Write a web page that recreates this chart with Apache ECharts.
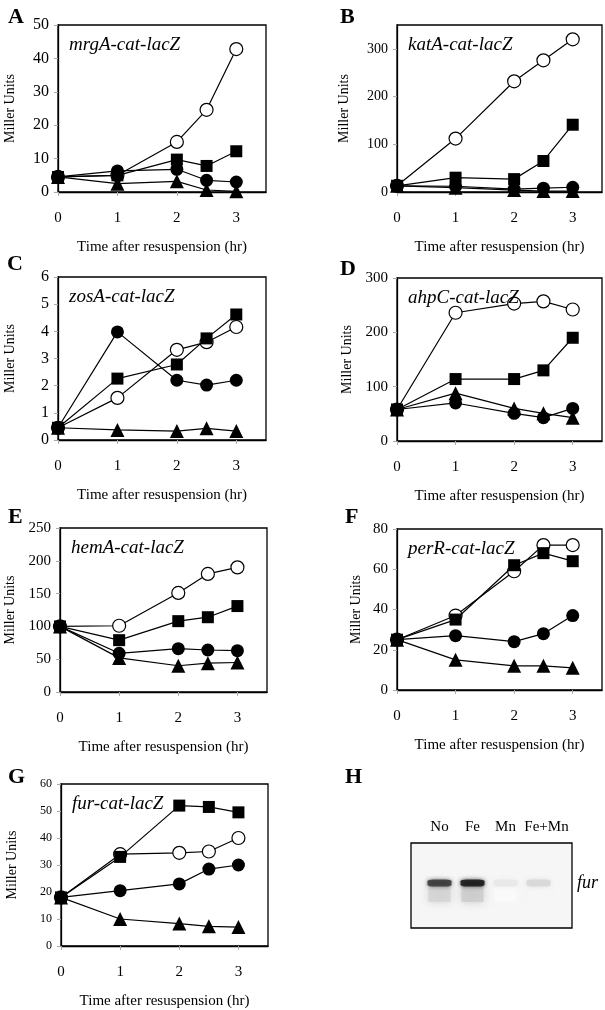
<!DOCTYPE html>
<html>
<head>
<meta charset="utf-8">
<script src="https://cdn.jsdelivr.net/npm/echarts@6/dist/echarts.min.js"></script>
<style>html,body{margin:0;padding:0;background:#fff}#c{width:605px;height:1010px}</style>
</head>
<body>
<div id="c"></div>
<script>
// ---- data ----
var times = [0, 1, 2, 2.5, 3];
var panelLetters = ['A', 'B', 'C', 'D', 'E', 'F', 'G', 'H'];
var reporters = ['mrgA-cat-lacZ', 'katA-cat-lacZ', 'zosA-cat-lacZ', 'ahpC-cat-lacZ', 'hemA-cat-lacZ', 'perR-cat-lacZ', 'fur-cat-lacZ'];
var yMax = [50, 350, 6, 300, 250, 80, 60];
var yInterval = [10, 100, 1, 100, 50, 20, 10];

var mrgA_open = [4.5, 5.0, 15.0, 24.6, 42.8];
var mrgA_fill = [4.5, 6.3, 6.8, 3.5, 3.0];
var mrgA_tri  = [4.5, 2.5, 3.2, 0.6, 0.2];
var mrgA_sq   = [4.5, 5.0, 9.7, 7.8, 12.2];

var katA_open = [13, 112, 232, 276, 320];
var katA_fill = [13, 12, 6, 8, 10];
var katA_tri  = [13, 9, 4, 2, 2];
var katA_sq   = [13, 30, 27, 65, 141];

var zosA_open = [0.45, 1.55, 3.32, 3.6, 4.16];
var zosA_fill = [0.45, 3.98, 2.2, 2.02, 2.2];
var zosA_tri  = [0.45, 0.37, 0.33, 0.43, 0.33];
var zosA_sq   = [0.45, 2.26, 2.78, 3.74, 4.62];

var ahpC_open = [58, 236, 253, 257, 242];
var ahpC_fill = [58, 70, 51, 43, 60];
var ahpC_tri  = [58, 88, 60, 51, 43];
var ahpC_sq   = [58, 114, 114, 130, 190];

var hemA_open = [100, 101, 151, 180, 190];
var hemA_fill = [100, 59, 66, 64, 63];
var hemA_tri  = [100, 52, 40, 44, 45];
var hemA_sq   = [100, 79, 108, 114, 131];

var perR_open = [25, 37, 59, 72, 72];
var perR_fill = [25, 27, 24, 28, 37];
var perR_tri  = [25, 15, 12, 12, 11];
var perR_sq   = [25, 35, 62, 68, 64];

var fur_open = [18, 34, 34.5, 35, 40];
var fur_fill = [18, 20.5, 23, 28.5, 30];
var fur_tri  = [18, 10, 8.3, 7.3, 7];
var fur_sq   = [18, 33, 52, 51.5, 49.5];

var blotLanes = ['No', 'Fe', 'Mn', 'Fe+Mn'];
var blotBand = ['fur'];
var bandIntensity = [0.86, 1.0, 0.1, 0.17];

var panelSeries = [
  [mrgA_open, mrgA_fill, mrgA_tri, mrgA_sq],
  [katA_open, katA_fill, katA_tri, katA_sq],
  [zosA_open, zosA_fill, zosA_tri, zosA_sq],
  [ahpC_open, ahpC_fill, ahpC_tri, ahpC_sq],
  [hemA_open, hemA_fill, hemA_tri, hemA_sq],
  [perR_open, perR_fill, perR_tri, perR_sq],
  [fur_open, fur_fill, fur_tri, fur_sq]
];
var seriesNames = ['open circle', 'filled circle', 'triangle', 'square'];

// ---- layout / style ----
var FONT = 'Liberation Serif';
var grids = [
  {left: 58, top: 25, width: 208, height: 167},
  {left: 397, top: 25, width: 205, height: 167},
  {left: 58, top: 277, width: 208, height: 163},
  {left: 397, top: 278, width: 205, height: 163},
  {left: 60, top: 528, width: 207, height: 164},
  {left: 397, top: 529, width: 205, height: 161},
  {left: 61, top: 784, width: 207, height: 164}
];
var yFont = [16, 14, 16, 15, 15, 15, 12];
var yNameGap = [41, 46, 41, 43, 43, 34, 42];
var letterPos = [[3, 1], [335, 1], [2, 248], [335, 253], [3, 501], [340, 501], [3, 761], [340, 761]];
var symbolDefs = [
  {symbol: 'circle', size: 13, color: '#fff'},
  {symbol: 'circle', size: 13, color: '#000'},
  {symbol: 'triangle', size: 14, color: '#000'},
  {symbol: 'rect', size: 12, color: '#000'}
];

var option = {
  animation: false,
  backgroundColor: '#fff',
  grid: [], xAxis: [], yAxis: [], series: [], title: [], graphic: []
};

grids.forEach(function (g, i) {
  option.grid.push({left: g.left, top: g.top, width: g.width, height: g.height,
    show: true, borderColor: '#000', borderWidth: 1.3, backgroundColor: 'transparent'});
  option.xAxis.push({
    type: 'value', gridIndex: i, min: 0, max: 3.5, interval: 1,
    axisLine: {show: true, lineStyle: {color: '#000', width: 1.3}},
    axisTick: {show: true, length: 4, lineStyle: {color: '#aaa'}},
    splitLine: {show: false},
    axisLabel: {showMaxLabel: false, margin: 19, color: '#000', fontFamily: FONT, fontSize: 15},
    name: 'Time after resuspension (hr)', nameLocation: 'middle', nameGap: 48,
    nameTextStyle: {color: '#000', fontFamily: FONT, fontSize: 15}
  });
  option.yAxis.push({
    type: 'value', gridIndex: i, min: 0, max: yMax[i], interval: yInterval[i],
    axisLine: {show: true, lineStyle: {color: '#000', width: 1.3}},
    axisTick: {show: true, length: 4, lineStyle: {color: '#aaa'}},
    splitLine: {show: false},
    axisLabel: {showMaxLabel: i === 1 ? false : true, margin: 9, color: '#000', fontFamily: FONT, fontSize: yFont[i]},
    name: 'Miller Units', nameLocation: 'middle', nameGap: yNameGap[i],
    nameTextStyle: {color: '#000', fontFamily: FONT, fontSize: 14}
  });
  option.title.push({
    text: reporters[i], left: g.left + 6, top: g.top + 5,
    textStyle: {fontFamily: FONT, fontStyle: 'italic', fontWeight: 'normal', fontSize: 19, color: '#000'}
  });
  panelSeries[i].forEach(function (vals, k) {
    var sd = symbolDefs[k];
    option.series.push({
      name: seriesNames[k], type: 'line', xAxisIndex: i, yAxisIndex: i,
      data: times.map(function (t, j) { return [t, vals[j]]; }),
      symbol: sd.symbol, symbolSize: sd.size, showAllSymbol: true,
      lineStyle: {color: '#000', width: 1.2},
      itemStyle: {color: sd.color, borderColor: '#000', borderWidth: k === 0 ? 1.2 : 0, opacity: 1},
      z: 2 + k
    });
  });
});

panelLetters.forEach(function (L, i) {
  option.title.push({
    text: L, left: letterPos[i][0], top: letterPos[i][1],
    textStyle: {fontFamily: FONT, fontWeight: 'bold', fontSize: 22, color: '#000'}
  });
});

// ---- panel H: blot ----
var hIdx = grids.length;
option.graphic.push({
  type: 'rect', shape: {x: 411, y: 843, width: 161, height: 85},
  style: {fill: '#f6f6f6', stroke: '#000', lineWidth: 1.3}, z: 0
});
option.grid.push({left: 423, top: 843, width: 132, height: 80, show: false});
option.xAxis.push({
  type: 'category', gridIndex: hIdx, data: blotLanes, position: 'top', boundaryGap: true,
  axisLine: {show: false}, axisTick: {show: false}, splitLine: {show: false},
  axisLabel: {
    margin: 8, color: '#000', fontFamily: FONT, fontSize: 15, interval: 0,
    formatter: function (v) { return v === 'Fe+Mn' ? '{s|' + v + '}' : '{n|' + v + '}'; },
    rich: {
      n: {fontFamily: FONT, fontSize: 15, color: '#000'},
      s: {fontFamily: FONT, fontSize: 15, color: '#000', padding: [0, 0, 0, 16]}
    }
  }
});
option.yAxis.push({
  type: 'category', gridIndex: hIdx, data: blotBand, position: 'right',
  axisLine: {show: false}, axisTick: {show: false}, splitLine: {show: false},
  axisLabel: {margin: 22, color: '#000', fontFamily: FONT, fontSize: 18, fontStyle: 'italic'}
});
function gray(v) { var c = Math.round(255 * (1 - v)); return 'rgb(' + c + ',' + c + ',' + c + ')'; }
option.series.push({
  name: 'smear', type: 'scatter', xAxisIndex: hIdx, yAxisIndex: hIdx,
  symbol: 'rect', symbolSize: [22, 16], symbolOffset: [0, 11],
  data: blotLanes.map(function (l, j) {
    return {value: [l, blotBand[0]], itemStyle: {color: gray(bandIntensity[j] * 0.2), shadowBlur: 8, shadowColor: gray(bandIntensity[j] * 0.25)}};
  }), z: 1
});
option.series.push({
  name: 'band', type: 'scatter', xAxisIndex: hIdx, yAxisIndex: hIdx,
  symbol: 'roundRect', symbolSize: [24, 7],
  data: blotLanes.map(function (l, j) {
    return {value: [l, blotBand[0]], itemStyle: {color: gray(bandIntensity[j] * 0.95), shadowBlur: 4, shadowColor: gray(bandIntensity[j] * 0.8)}};
  }), z: 2
});

var chart = echarts.init(document.getElementById('c'), null, {renderer: 'canvas'});
chart.setOption(option);
</script>
</body>
</html>
